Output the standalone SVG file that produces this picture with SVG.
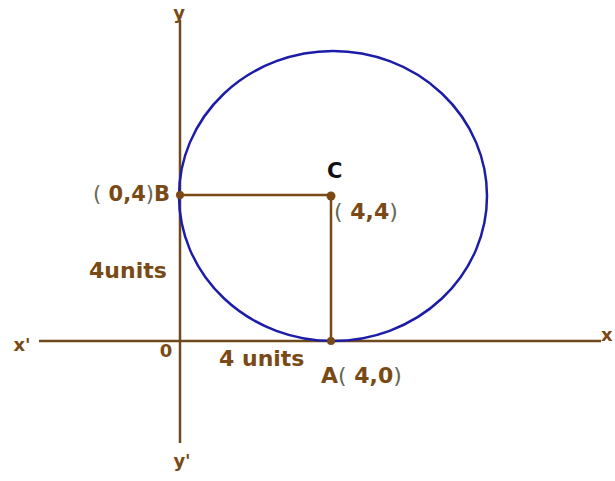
<svg xmlns="http://www.w3.org/2000/svg" width="615" height="481" viewBox="0 0 615 481">
<style>
.ax{stroke:#6e4a1e;stroke-width:2.5;fill:none}
.ln{stroke:#7a4a16;stroke-width:2.5;fill:none}
.circ{stroke:#1c1ca8;stroke-width:2.5;fill:none}
.dot{fill:#7a4a16}
text{font-family:"DejaVu Sans","Liberation Sans",sans-serif;font-weight:bold;fill:#7a4a16}
.t22{font-size:22px}
.t21{font-size:21px}
.t18{font-size:18px}
.par{font-weight:normal;fill:#666655}
.blk{fill:#111111}
</style>
<rect width="615" height="481" fill="#ffffff"/>
<g id="connectors">
<line class="ax" x1="180" y1="20" x2="180" y2="443"/>
<line class="ax" x1="39" y1="341" x2="601" y2="341"/>
<line class="ln" x1="180" y1="195" x2="331" y2="195"/>
<line class="ln" x1="331" y1="195" x2="331" y2="341"/>
</g>
<g id="circle"><ellipse class="circ" cx="333" cy="196" rx="154" ry="145"/></g>
<g id="axis-labels">
<text class="t18" x="179" y="19" text-anchor="middle">y</text>
<text class="t18" x="182" y="467" text-anchor="middle">y'</text>
<text class="t18" x="22" y="351" text-anchor="middle">x'</text>
<text class="t18" x="601" y="341">x</text>
</g>
<g id="node-O"><text class="t18" x="166" y="357" text-anchor="middle">0</text></g>
<g id="node-B">
<circle class="dot" cx="180" cy="195" r="4"/>
<text class="t21" x="170" y="201" text-anchor="end"><tspan class="par">(</tspan> 0,4<tspan class="par">)</tspan>B</text>
</g>
<g id="node-C">
<circle class="dot" cx="331" cy="196" r="4.5"/>
<text class="t21 blk" x="327" y="178">C</text>
<text class="t22" x="334" y="219"><tspan class="par">(</tspan> 4,4<tspan class="par">)</tspan></text>
</g>
<g id="node-A">
<circle class="dot" cx="331" cy="341" r="4"/>
<text class="t22" x="321" y="383">A<tspan class="par">(</tspan> 4,0<tspan class="par">)</tspan></text>
</g>
<g id="labels">
<text class="t22" x="89" y="278">4units</text>
<text class="t22" x="219" y="366">4 units</text>
</g>
</svg>
